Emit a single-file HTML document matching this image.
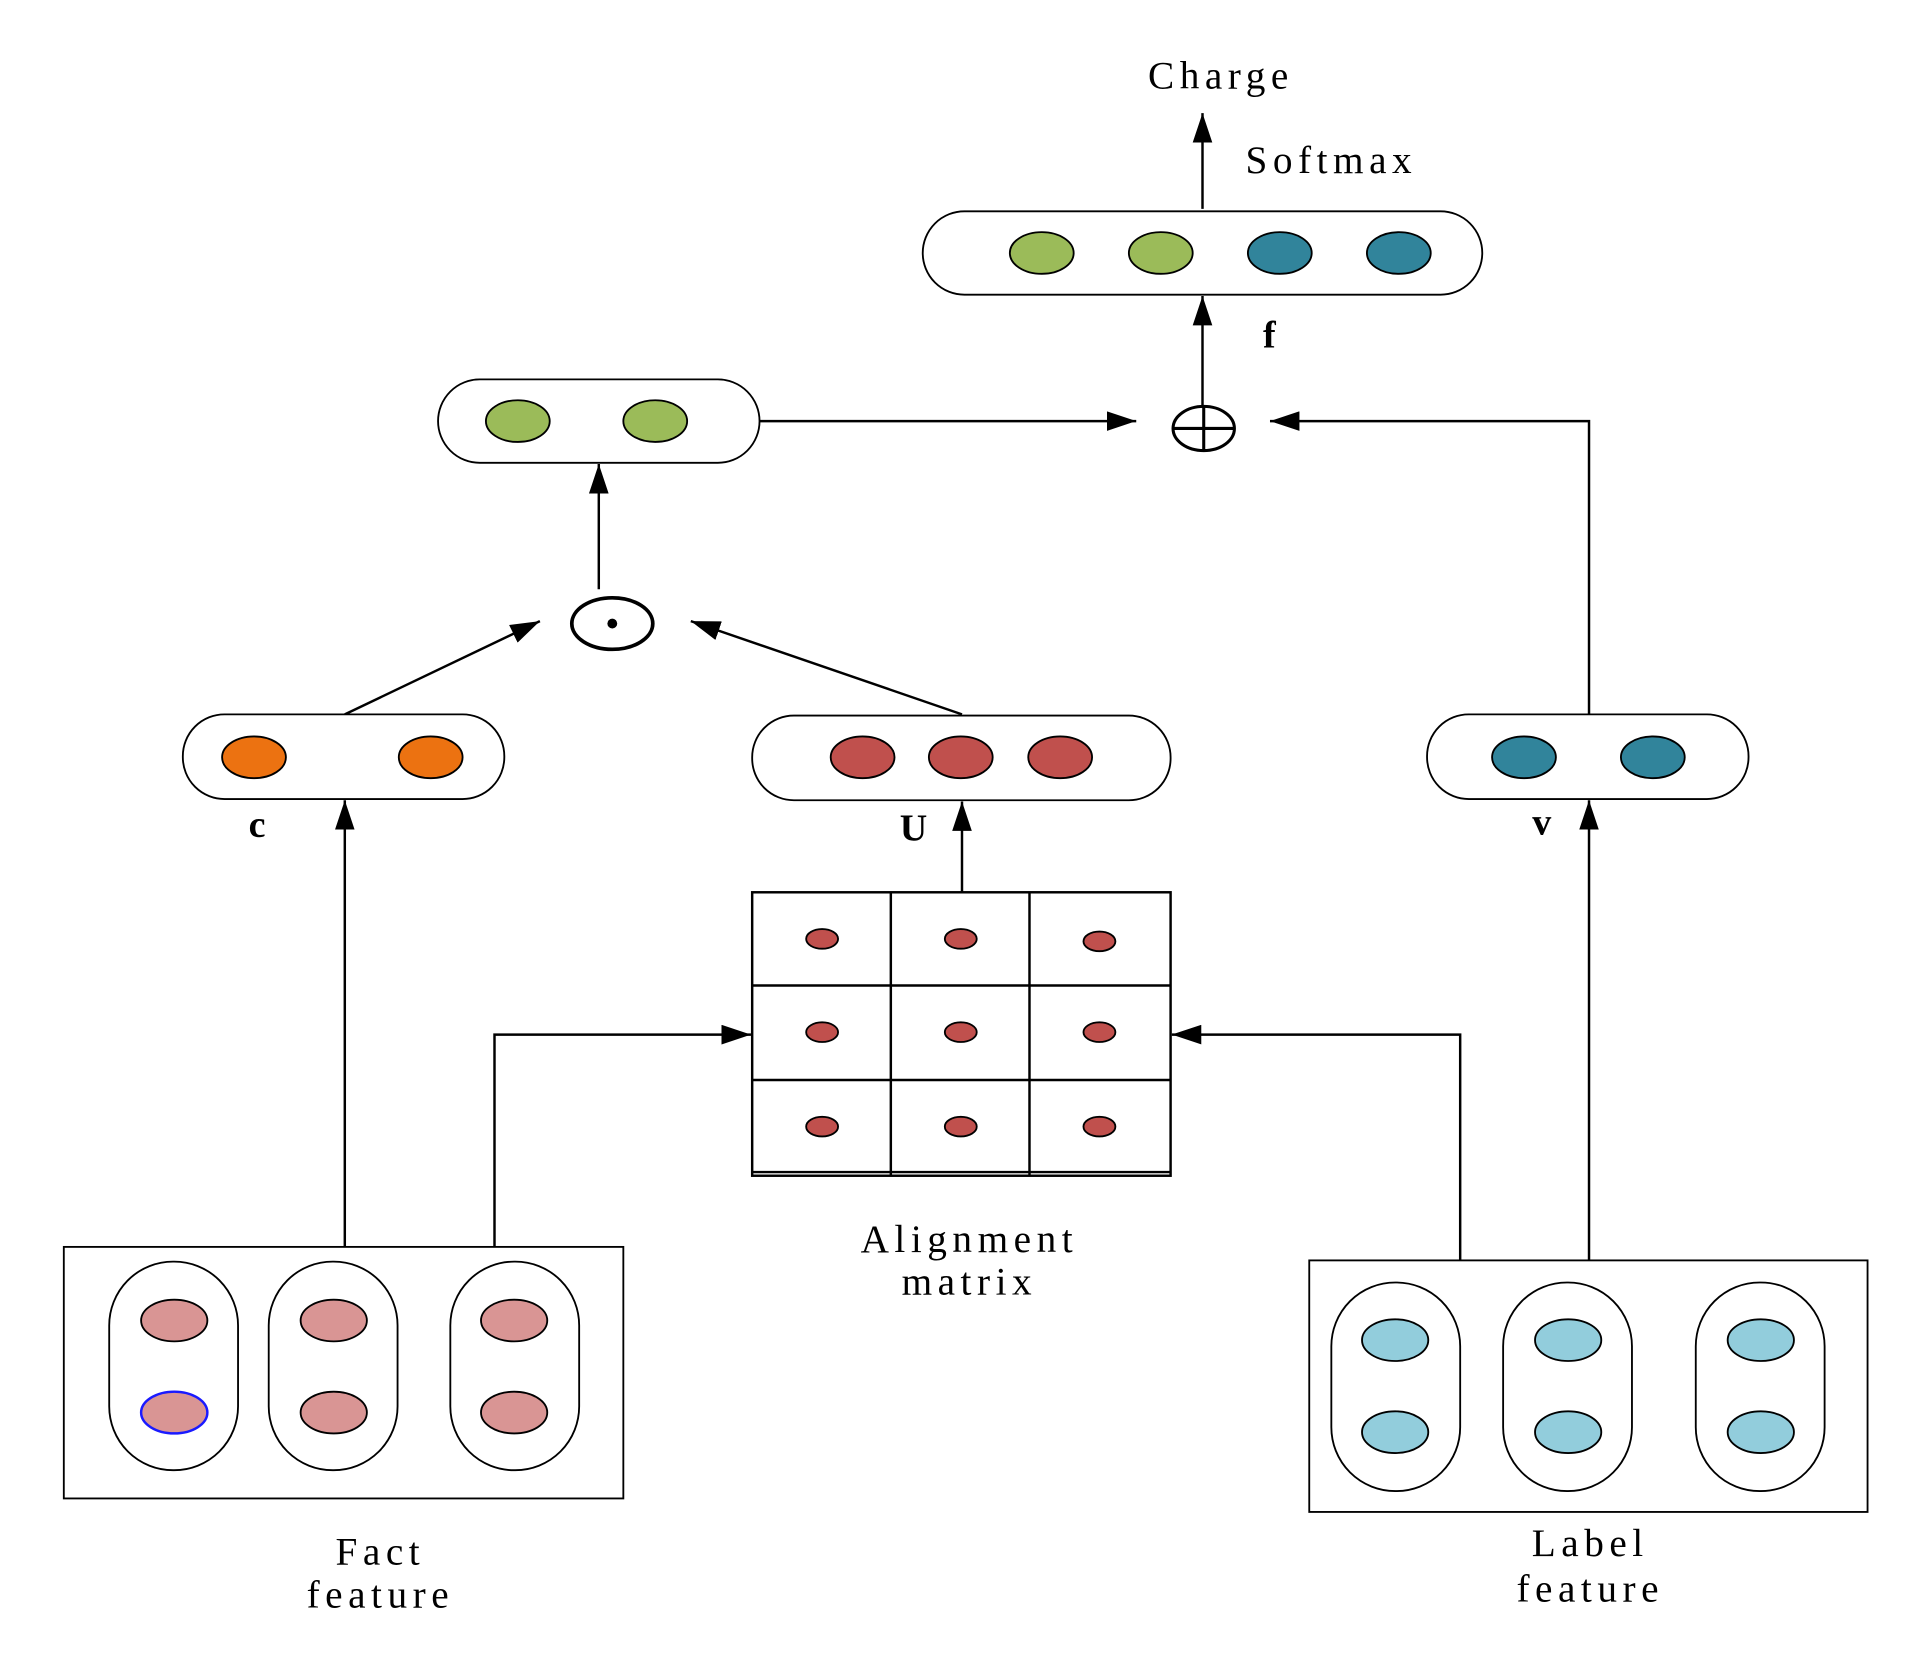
<!DOCTYPE html>
<html><head><meta charset="utf-8"><style>
html,body{margin:0;padding:0;background:#fff;}
svg{display:block;}
text{font-family:"Liberation Serif",serif;font-size:32px;fill:#000;letter-spacing:4.5px;}
.b{font-weight:bold;font-size:31px;letter-spacing:1px;}
</style></head><body>
<svg width="1924" height="1668" viewBox="0 0 1568 1359" xmlns="http://www.w3.org/2000/svg">
<defs>
<marker id="ar" viewBox="0 0 24 16" refX="24" refY="8" markerWidth="24" markerHeight="16" orient="auto" markerUnits="userSpaceOnUse"><path d="M0,0 L24,8 L0,16 z" fill="#000"/></marker>
</defs>
<g fill="none" stroke="#000" stroke-width="2">
<line x1="980" y1="170" x2="980" y2="92" marker-end="url(#ar)"/>
<line x1="980" y1="345" x2="980" y2="241" marker-end="url(#ar)"/>
<line x1="619" y1="343" x2="926" y2="343" marker-end="url(#ar)"/>
<polyline points="1295,582 1295,343 1035,343" marker-end="url(#ar)"/>
<line x1="488" y1="480" x2="488" y2="378" marker-end="url(#ar)"/>
<line x1="281" y1="582" x2="440" y2="506" marker-end="url(#ar)"/>
<line x1="784" y1="582" x2="563" y2="506" marker-end="url(#ar)"/>
<line x1="281" y1="1016" x2="281" y2="652" marker-end="url(#ar)"/>
<line x1="784" y1="727" x2="784" y2="653" marker-end="url(#ar)"/>
<line x1="1295" y1="1027" x2="1295" y2="652" marker-end="url(#ar)"/>
<polyline points="403,1016 403,843 612,843" marker-end="url(#ar)"/>
<polyline points="1190,1027 1190,843 955,843" marker-end="url(#ar)"/>
</g>
<g stroke="#000" stroke-width="1.5">
<rect x="752" y="172" width="456" height="68" rx="34" fill="#fff"/>
<ellipse cx="849" cy="206" rx="26" ry="17" fill="#9bbb59"/>
<ellipse cx="946" cy="206" rx="26" ry="17" fill="#9bbb59"/>
<ellipse cx="1043" cy="206" rx="26" ry="17" fill="#31849b"/>
<ellipse cx="1140" cy="206" rx="26" ry="17" fill="#31849b"/>
<rect x="357" y="309" width="262" height="68" rx="34" fill="#fff"/>
<ellipse cx="422" cy="343" rx="26" ry="17" fill="#9bbb59"/>
<ellipse cx="534" cy="343" rx="26" ry="17" fill="#9bbb59"/>
<rect x="149" y="582" width="262" height="69" rx="34" fill="#fff"/>
<ellipse cx="207" cy="617" rx="26" ry="17" fill="#ec7211"/>
<ellipse cx="351" cy="617" rx="26" ry="17" fill="#ec7211"/>
<rect x="613" y="583" width="341" height="69" rx="34" fill="#fff"/>
<ellipse cx="703" cy="617" rx="26" ry="17" fill="#c0504d"/>
<ellipse cx="783" cy="617" rx="26" ry="17" fill="#c0504d"/>
<ellipse cx="864" cy="617" rx="26" ry="17" fill="#c0504d"/>
<rect x="1163" y="582" width="262" height="69" rx="34" fill="#fff"/>
<ellipse cx="1242" cy="617" rx="26" ry="17" fill="#31849b"/>
<ellipse cx="1347" cy="617" rx="26" ry="17" fill="#31849b"/>
</g>
<g fill="none" stroke="#000" stroke-width="2.5">
<ellipse cx="981" cy="349" rx="25" ry="18" fill="#fff"/>
<line x1="956" y1="349" x2="1006" y2="349"/><line x1="981" y1="331" x2="981" y2="367"/>
<ellipse cx="499" cy="508" rx="33" ry="21" fill="#fff" stroke-width="3"/>
</g>
<circle cx="499" cy="508" r="4" fill="#000"/>
<g fill="#fff" stroke="#000" stroke-width="2">
<rect x="613" y="727" width="341" height="231"/>
<line x1="613" y1="803" x2="954" y2="803"/><line x1="613" y1="880" x2="954" y2="880"/>
<line x1="726" y1="727" x2="726" y2="958"/><line x1="839" y1="727" x2="839" y2="958"/>
<line x1="613" y1="955" x2="954" y2="955"/>
</g>
<g fill="#c0504d" stroke="#000" stroke-width="1.5">
<ellipse cx="670" cy="765" rx="13" ry="8"/><ellipse cx="783" cy="765" rx="13" ry="8"/><ellipse cx="896" cy="767" rx="13" ry="8"/>
<ellipse cx="670" cy="841" rx="13" ry="8"/><ellipse cx="783" cy="841" rx="13" ry="8"/><ellipse cx="896" cy="841" rx="13" ry="8"/>
<ellipse cx="670" cy="918" rx="13" ry="8"/><ellipse cx="783" cy="918" rx="13" ry="8"/><ellipse cx="896" cy="918" rx="13" ry="8"/>
</g>
<g stroke="#000" stroke-width="1.5">
<rect x="52" y="1016" width="456" height="205" fill="#fff"/>
<rect x="89" y="1028" width="105" height="170" rx="52" fill="#fff"/>
<rect x="219" y="1028" width="105" height="170" rx="52" fill="#fff"/>
<rect x="367" y="1028" width="105" height="170" rx="52" fill="#fff"/>
<g fill="#d99594">
<ellipse cx="142" cy="1076" rx="27" ry="17"/><ellipse cx="272" cy="1076" rx="27" ry="17"/><ellipse cx="419" cy="1076" rx="27" ry="17"/>
<ellipse cx="142" cy="1151" rx="27" ry="17" stroke="#1a1aff" stroke-width="2"/><ellipse cx="272" cy="1151" rx="27" ry="17"/><ellipse cx="419" cy="1151" rx="27" ry="17"/>
</g>
<rect x="1067" y="1027" width="455" height="205" fill="#fff"/>
<rect x="1085" y="1045" width="105" height="170" rx="52" fill="#fff"/>
<rect x="1225" y="1045" width="105" height="170" rx="52" fill="#fff"/>
<rect x="1382" y="1045" width="105" height="170" rx="52" fill="#fff"/>
<g fill="#92cddc">
<ellipse cx="1137" cy="1092" rx="27" ry="17"/><ellipse cx="1278" cy="1092" rx="27" ry="17"/><ellipse cx="1435" cy="1092" rx="27" ry="17"/>
<ellipse cx="1137" cy="1167" rx="27" ry="17"/><ellipse cx="1278" cy="1167" rx="27" ry="17"/><ellipse cx="1435" cy="1167" rx="27" ry="17"/>
</g>
</g>
<text x="995" y="72" text-anchor="middle">Charge</text>
<text x="1085" y="141" text-anchor="middle">Softmax</text>
<text x="1035" y="283" text-anchor="middle" class="b">f</text>
<text x="210" y="682" text-anchor="middle" class="b">c</text>
<text x="745" y="685" text-anchor="middle" class="b">U</text>
<text x="1257" y="680" text-anchor="middle" class="b">v</text>
<text x="790" y="1020" text-anchor="middle">Alignment</text>
<text x="790" y="1055" text-anchor="middle">matrix</text>
<text x="310" y="1275" text-anchor="middle">Fact</text>
<text x="310" y="1310" text-anchor="middle">feature</text>
<text x="1296" y="1268" text-anchor="middle">Label</text>
<text x="1296" y="1305" text-anchor="middle">feature</text>
</svg>
</body></html>
